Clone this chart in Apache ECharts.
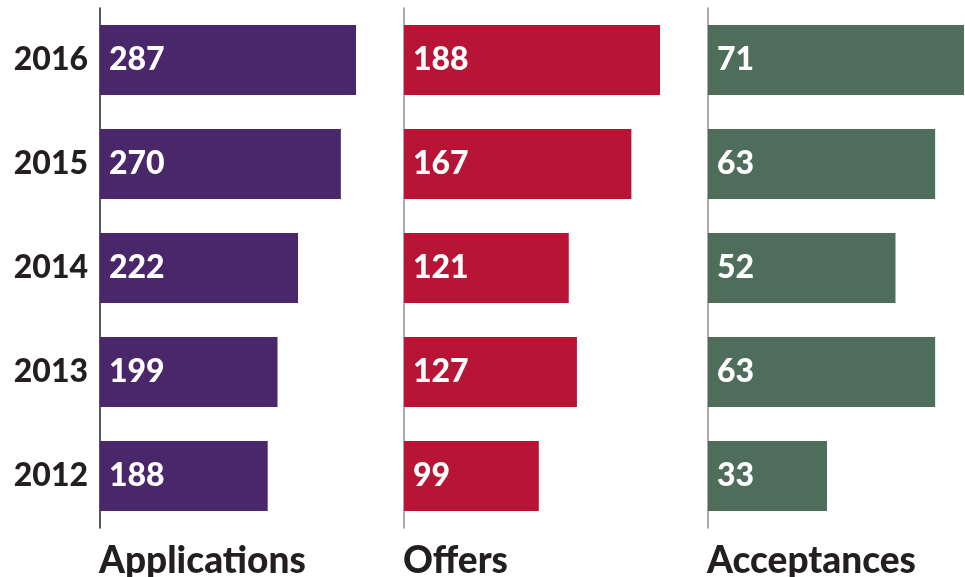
<!DOCTYPE html>
<html><head><meta charset="utf-8">
<script src="https://cdn.jsdelivr.net/npm/echarts@6/dist/echarts.min.js"></script>
<style>html,body{margin:0;padding:0;background:#fff}#c{width:965px;height:577px}</style>
</head><body><div id="c"></div>
<script>
var years = ['2012','2013','2014','2015','2016'];
var applications = [188,199,222,270,287];
var offers = [99,127,121,167,188];
var acceptances = [33,63,52,63,71];
var panelTitles = ['Applications','Offers','Acceptances'];
var colors = ['#4a266a','#b81435','#4e6d5b'];
var seriesData = [applications, offers, acceptances];
var lefts = [100,404,708];
var FONT = 'Lato';
var chart = echarts.init(document.getElementById('c'));
var grids=[],xAxes=[],yAxes=[],series=[],titles=[];
for (var i=0;i<3;i++){
  grids.push({left:lefts[i],top:8,width:256,height:520});
  xAxes.push({type:'value',gridIndex:i,min:0,max:'dataMax',show:false});
  yAxes.push({type:'category',gridIndex:i,data:years,
    axisLine:{show:true,lineStyle:{color:i===0?'#231f20':'#8c8c8c',width:1.5}},
    axisTick:{show:false},
    axisLabel:{show:i===0,color:'#231f20',fontFamily:FONT,fontWeight:900,fontSize:32,margin:12}});
  series.push({type:'bar',xAxisIndex:i,yAxisIndex:i,data:seriesData[i],barWidth:70,
    itemStyle:{color:colors[i]},silent:true,
    label:{show:true,position:'insideLeft',distance:9,color:'#fff',fontFamily:FONT,fontWeight:900,fontSize:32}});
  titles.push({text:panelTitles[i],left:lefts[i]-1,top:543,padding:0,
    textStyle:{color:'#231f20',fontFamily:FONT,fontWeight:900,fontSize:37}});
}
chart.setOption({animation:false,title:titles,grid:grids,xAxis:xAxes,yAxis:yAxes,series:series});
</script></body></html>
